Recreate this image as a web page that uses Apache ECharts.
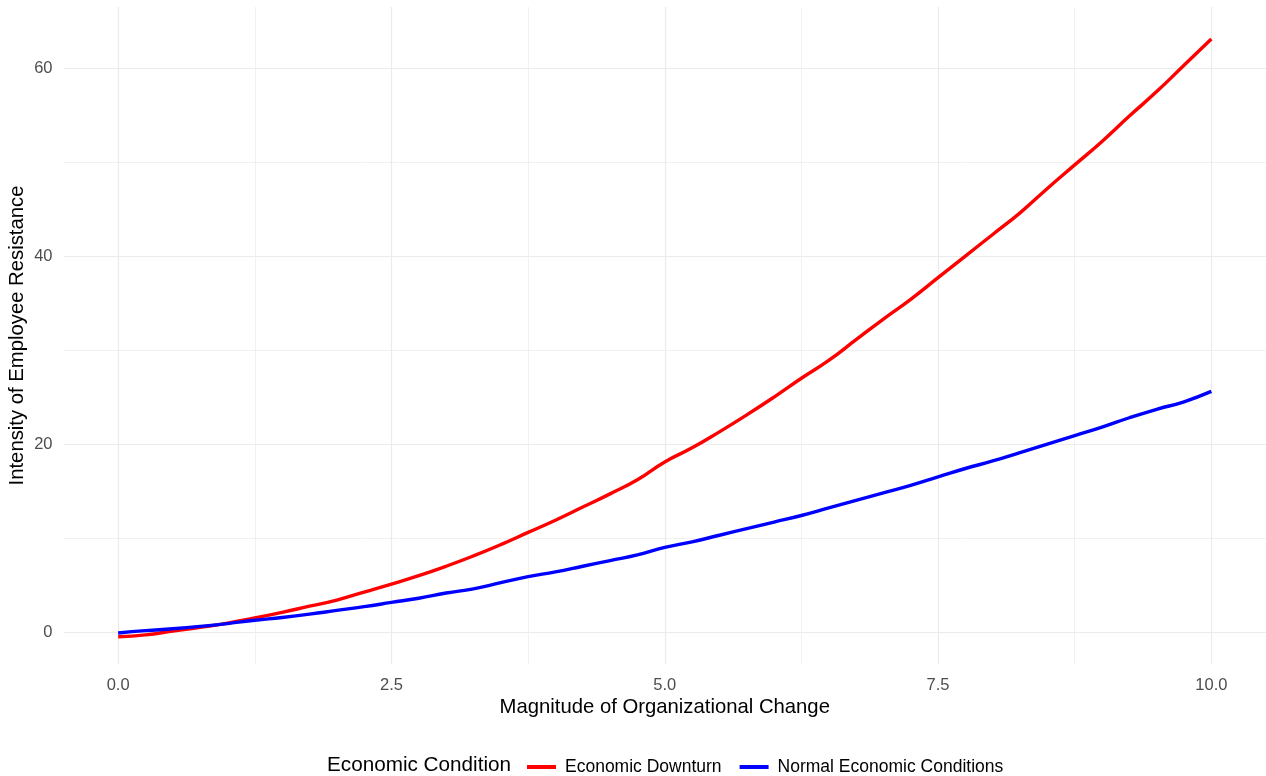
<!DOCTYPE html>
<html>
<head>
<meta charset="utf-8">
<script src="https://cdn.jsdelivr.net/npm/echarts@6/dist/echarts.min.js"></script>
<style>html,body{margin:0;padding:0;background:#fff}#c{width:1266px;height:776px}</style>
</head>
<body>
<div id="c"></div>
<script>
const xValues = [0,0.25,0.5,0.75,1,1.25,1.5,1.75,2,2.25,2.5,2.75,3,3.25,3.5,3.75,4,4.25,4.5,4.75,5,5.25,5.5,5.75,6,6.25,6.5,6.75,7,7.25,7.5,7.75,8,8.25,8.5,8.75,9,9.25,9.5,9.75,10];
const downturn = [-0.5,-0.3,0.1,0.5,0.95,1.5,2.1,2.75,3.4,4.25,5.1,6.0,7.0,8.1,9.3,10.6,11.9,13.3,14.7,16.2,18.1,19.6,21.3,23.1,25.0,27.0,28.9,31.1,33.3,35.4,37.7,40.0,42.3,44.6,47.2,49.7,52.2,54.9,57.5,60.3,63.1];
const normal = [-0.1,0.15,0.35,0.6,0.9,1.25,1.55,1.9,2.3,2.7,3.15,3.6,4.15,4.6,5.25,5.9,6.4,7.0,7.6,8.2,9.0,9.6,10.3,11.0,11.7,12.4,13.2,14.0,14.8,15.6,16.5,17.4,18.2,19.1,20.0,20.9,21.8,22.8,23.7,24.5,25.6];
const xMajor = [0,2.5,5,7.5,10];
const xMinor = [1.25,3.75,6.25,8.75];
const yMajor = [0,20,40,60];
const yMinor = [10,30,50];
const seriesNames = ['Economic Downturn','Normal Economic Conditions'];
const legendTitle = 'Economic Condition';
const xTitle = 'Magnitude of Organizational Change';
const yTitle = 'Intensity of Employee Resistance';

const font = 'Liberation Sans, Arial, sans-serif';
const grid = {left:63.5, right:0, top:7, bottom:112, outerBoundsMode:'none', containLabel:false};
const xRange = {min:-0.5, max:10.5};
const yRange = {min:-3.4, max:66.5};

const chart = echarts.init(document.getElementById('c'));
chart.setOption({
  animation:false,
  backgroundColor:'#fff',
  grid: grid,
  title: {
    text: legendTitle, left: 327, top: 755,
    textStyle:{fontFamily:font, fontSize:20.7, fontWeight:'normal', color:'#000'}, padding:0
  },
  legend: {
    data: seriesNames, left: 527, top: 758, itemGap: 18, itemWidth: 29, itemHeight: 4,
    icon: 'rect', padding:0,
    textStyle:{fontFamily:font, fontSize:17.5, color:'#000', padding:[0,0,0,4]}
  },
  xAxis: [
    {type:'value', min:xRange.min, max:xRange.max,
     name:xTitle, nameLocation:'middle', nameGap:33, nameMoveOverlap:false,
     nameTextStyle:{fontFamily:font, fontSize:20.3, color:'#000'},
     axisLine:{show:false}, axisTick:{show:false, customValues:xMajor},
     axisLabel:{customValues:xMajor, fontFamily:font, fontSize:16.5, color:'#4D4D4D', margin:13,
       formatter:v=>v.toFixed(1)},
     splitLine:{show:true, lineStyle:{color:'#EBEBEB', width:1.2}}},
    {type:'value', min:xRange.min, max:xRange.max, position:'bottom',
     axisLine:{show:false}, axisTick:{show:false, customValues:xMinor},
     axisLabel:{show:false, customValues:xMinor},
     splitLine:{show:true, lineStyle:{color:'#EEEEEE', width:0.8}}}
  ],
  yAxis: [
    {type:'value', min:yRange.min, max:yRange.max,
     name:yTitle, nameLocation:'middle', nameGap:36, nameMoveOverlap:false,
     nameTextStyle:{fontFamily:font, fontSize:20.3, color:'#000'},
     axisLine:{show:false}, axisTick:{show:false, customValues:yMajor},
     axisLabel:{customValues:yMajor, fontFamily:font, fontSize:16.5, color:'#4D4D4D', margin:11},
     splitLine:{show:true, lineStyle:{color:'#EBEBEB', width:1.2}}},
    {type:'value', min:yRange.min, max:yRange.max, position:'left',
     axisLine:{show:false}, axisTick:{show:false, customValues:yMinor},
     axisLabel:{show:false, customValues:yMinor},
     splitLine:{show:true, lineStyle:{color:'#EEEEEE', width:0.8}}}
  ],
  series: [
    {name:seriesNames[0], type:'line', showSymbol:false, smooth:true,
     data:xValues.map((x,i)=>[x,downturn[i]]),
     lineStyle:{color:'#FF0000', width:3.4}, itemStyle:{color:'#FF0000'}},
    {name:seriesNames[1], type:'line', showSymbol:false, smooth:true,
     data:xValues.map((x,i)=>[x,normal[i]]),
     lineStyle:{color:'#0000FF', width:3.4}, itemStyle:{color:'#0000FF'}}
  ]
});
</script>
</body>
</html>
